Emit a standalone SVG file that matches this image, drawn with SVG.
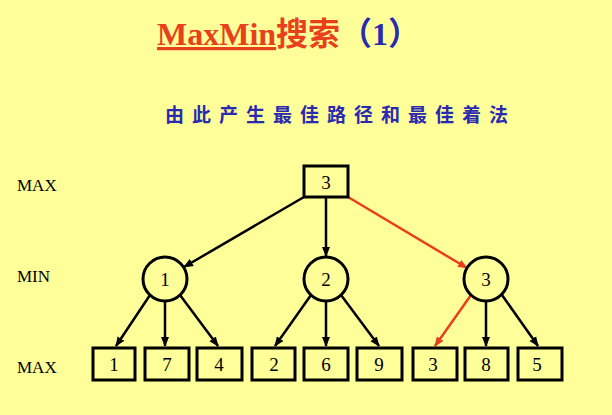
<svg xmlns="http://www.w3.org/2000/svg" width="612" height="415" viewBox="0 0 612 415">
<defs>
<marker id="ab" markerWidth="10" markerHeight="10" refX="9" refY="5" orient="auto" markerUnits="userSpaceOnUse"><path d="M0,1 L10,5 L0,9 z" fill="#000"/></marker>
<marker id="ar" markerWidth="10" markerHeight="10" refX="9" refY="5" orient="auto" markerUnits="userSpaceOnUse"><path d="M0,1 L10,5 L0,9 z" fill="#e8401c"/></marker>
</defs>
<style>
.n rect,.n circle{fill:none;stroke:#000;stroke-width:3}
.t{font-family:"Liberation Serif",serif;font-size:19px;text-anchor:middle;fill:#000}
.lab{font-family:"Liberation Serif",serif;font-size:17px;fill:#000}
.b{stroke:#000;stroke-width:2.5;marker-end:url(#ab);fill:none}
.r{stroke:#e8401c;stroke-width:2.5;marker-end:url(#ar);fill:none}
</style>
<rect width="612" height="415" fill="#ffff99"/>
<text x="157" y="45" font-family="'Liberation Serif','Noto Sans CJK SC',serif" font-size="32" font-weight="bold"><tspan fill="#e8401c" text-decoration="underline">MaxMin</tspan><tspan fill="#e8401c">搜索</tspan><tspan fill="#2a2ab0">（1）</tspan></text>
<text x="165" y="122" font-family="'Noto Sans CJK SC',sans-serif" font-size="19" font-weight="bold" fill="#2a2ab0" letter-spacing="8">由此产生最佳路径和最佳着法</text>
<text class="lab" x="17" y="191">MAX</text>
<text class="lab" x="17" y="282">MIN</text>
<text class="lab" x="17" y="373">MAX</text>
<g id="connectors">
<line class="b" x1="304" y1="197" x2="184" y2="267"/>
<line class="b" x1="326" y1="197" x2="326" y2="256"/>
<line class="r" x1="348" y1="197" x2="467" y2="268"/>
<line class="b" x1="150" y1="295" x2="116" y2="346"/>
<line class="b" x1="165" y1="301" x2="165" y2="346"/>
<line class="b" x1="180" y1="295" x2="218" y2="346"/>
<line class="b" x1="311" y1="295" x2="275" y2="346"/>
<line class="b" x1="326" y1="301" x2="326" y2="346"/>
<line class="b" x1="341" y1="295" x2="379" y2="346"/>
<line class="r" x1="471" y1="295" x2="435" y2="346"/>
<line class="b" x1="486" y1="301" x2="486" y2="346"/>
<line class="b" x1="502" y1="295" x2="538" y2="346"/>
</g>
<g id="root" class="n"><rect x="304" y="166" width="44" height="31"/><text class="t" x="326" y="189">3</text></g>
<g id="min1" class="n"><circle cx="165" cy="279" r="22"/><text class="t" x="165" y="286">1</text></g>
<g id="min2" class="n"><circle cx="326" cy="279" r="22"/><text class="t" x="326" y="286">2</text></g>
<g id="min3" class="n"><circle cx="486" cy="279" r="22"/><text class="t" x="486" y="286">3</text></g>
<g id="l1" class="n"><rect x="93" y="348" width="42" height="32"/><text class="t" x="114" y="371">1</text></g>
<g id="l2" class="n"><rect x="145" y="348" width="44" height="32"/><text class="t" x="167" y="371">7</text></g>
<g id="l3" class="n"><rect x="197" y="348" width="45" height="32"/><text class="t" x="219" y="371">4</text></g>
<g id="l4" class="n"><rect x="252" y="348" width="43" height="32"/><text class="t" x="274" y="371">2</text></g>
<g id="l5" class="n"><rect x="304" y="348" width="44" height="32"/><text class="t" x="326" y="371">6</text></g>
<g id="l6" class="n"><rect x="357" y="348" width="45" height="32"/><text class="t" x="379" y="371">9</text></g>
<g id="l7" class="n"><rect x="413" y="348" width="44" height="32"/><text class="t" x="433" y="371">3</text></g>
<g id="l8" class="n"><rect x="465" y="348" width="43" height="32"/><text class="t" x="486" y="371">8</text></g>
<g id="l9" class="n"><rect x="518" y="348" width="44" height="32"/><text class="t" x="537" y="371">5</text></g>
</svg>
